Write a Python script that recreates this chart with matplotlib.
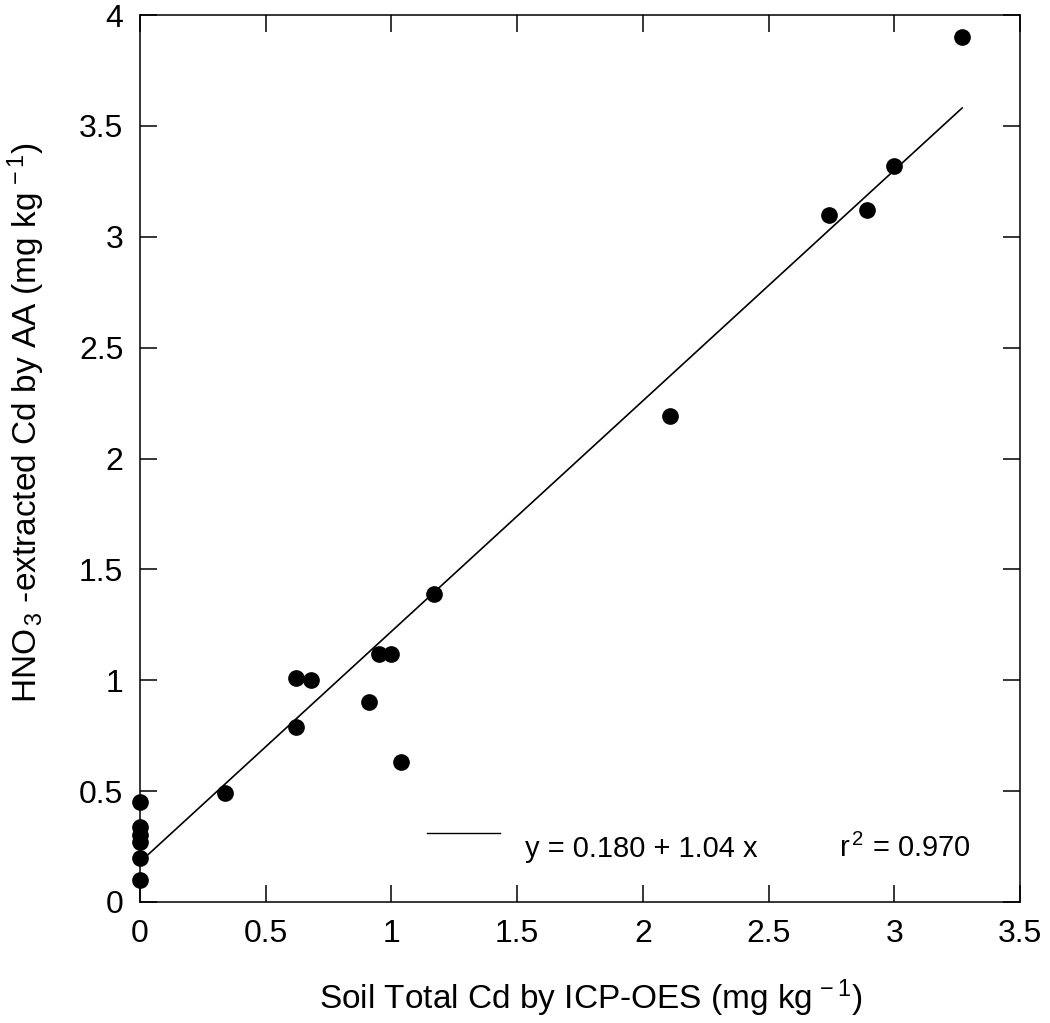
import matplotlib
matplotlib.use("Agg")
import matplotlib.pyplot as plt
import numpy as np

# Data
soil_total_cd = [0, 0, 0, 0, 0, 0, 0.34, 0.62, 0.68, 0.62, 0.91, 0.95, 1.00, 1.04,
                 1.17, 2.11, 2.74, 2.89, 3.00, 3.27]
hno3_cd = [0.45, 0.34, 0.30, 0.27, 0.20, 0.10, 0.49, 1.01, 1.00, 0.79, 0.90, 1.12, 1.12, 0.63,
           1.39, 2.19, 3.10, 3.12, 3.32, 3.90]
fit_intercept = 0.180
fit_slope = 1.04
r_squared = 0.970
x_ticks = [0, 0.5, 1, 1.5, 2, 2.5, 3, 3.5]
y_ticks = [0, 0.5, 1, 1.5, 2, 2.5, 3, 3.5, 4]

plt.rcParams['font.family'] = ['Liberation Sans', 'DejaVu Sans']
plt.rcParams['mathtext.fontset'] = 'custom'
plt.rcParams['mathtext.rm'] = 'Liberation Sans'
plt.rcParams['mathtext.it'] = 'Liberation Sans'

fig = plt.figure(figsize=(10.5, 10.23), dpi=100)
ax = fig.add_axes([0.1333, 0.1183, 0.8381, 0.867])

ax.plot(soil_total_cd, hno3_cd, 'o', color='black', markersize=11, clip_on=False, zorder=3)

xfit = np.array([0, max(soil_total_cd)])
ax.plot(xfit, fit_intercept + fit_slope * xfit, color='black', lw=1.2)

ax.set_xlim(0, 3.5)
ax.set_ylim(0, 4)
ax.set_xticks(x_ticks)
ax.set_yticks(y_ticks)
ax.set_xticklabels([f"{t:g}" for t in x_ticks])
ax.set_yticklabels([f"{t:g}" for t in y_ticks])

ax.tick_params(direction='in', length=12, width=1.1, top=True, right=True,
               labelsize=23, pad=12)
for s in ax.spines.values():
    s.set_linewidth(1.1)

ax.set_xlabel(r'Soil Total Cd by ICP-OES (mg kg$^{\,-1}$)', fontsize=24, labelpad=18)
ax.xaxis.set_label_coords(0.5125, -0.085)
ax.set_ylabel(r'HNO$_{\,3}$ -extracted Cd by AA (mg kg$^{\,-1}$)', fontsize=24)
ax.yaxis.set_label_coords(-0.106, 0.54)

# fit annotation
ax.plot([1.14, 1.43], [0.31, 0.31], color='black', lw=1.0)
ax.text(1.53, 0.24, f'y = {fit_intercept:.3f} + {fit_slope:.2f} x', fontsize=21, va='center')
ax.text(2.78, 0.24, r'r$^{\,2}$ = ' + f'{r_squared:.3f}', fontsize=21, va='center')

fig.savefig('out.png', dpi=100)
